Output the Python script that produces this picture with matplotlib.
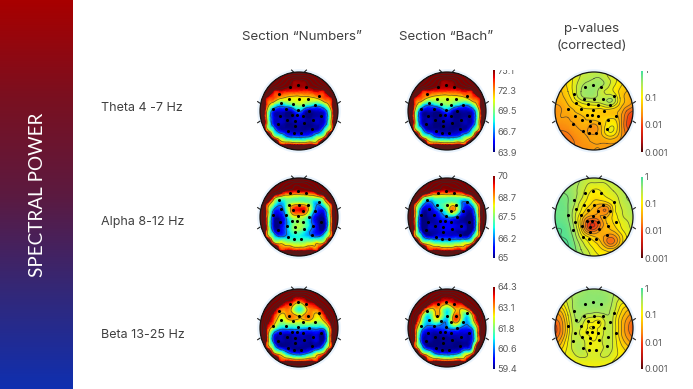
import numpy as np
import matplotlib
matplotlib.use('Agg')
import matplotlib.pyplot as plt
from matplotlib.colors import LinearSegmentedColormap, LogNorm, Normalize
from matplotlib.cm import ScalarMappable
from matplotlib.patches import Circle
from matplotlib.transforms import Bbox
from matplotlib.tri import Triangulation, UniformTriRefiner

W, H = 693, 389
plt.rcParams['font.family'] = ['Inter', 'DejaVu Sans']

# grid of the maps, x and y in head radii
grid_x = [-1, -.833, -.667, -.5, -.333, -.167, 0, .167, .333, .5, .667, .833, 1]
grid_y = [1, .833, .667, .5, .333, .167, 0, -.167, -.333, -.5, -.667, -.833, -1]

# power maps, in percent of the colour range (top row first)
theta_numbers = [
    [100]*13,
    [100]*13,
    [100, 100, 100, 100, 100, 98, 98, 98, 100, 100, 100, 100, 100],
    [100, 100, 98, 92, 88, 86, 86, 86, 88, 92, 98, 100, 100],
    [100, 97, 84, 74, 68, 66, 66, 66, 68, 74, 84, 97, 100],
    [100, 90, 56, 36, 40, 48, 56, 48, 40, 36, 56, 90, 100],
    [100, 74, 16, 7, 5, 9, 28, 9, 5, 7, 16, 74, 100],
    [100, 72, 12, 5, 2, 3, 10, 3, 2, 5, 12, 72, 100],
    [100, 76, 16, 5, 2, 2, 4, 2, 2, 5, 16, 76, 100],
    [100, 88, 42, 12, 5, 3, 3, 3, 5, 12, 42, 88, 100],
    [100, 100, 80, 52, 32, 24, 22, 24, 32, 52, 80, 100, 100],
    [100, 100, 100, 95, 85, 82, 80, 82, 85, 95, 100, 100, 100],
    [100]*13,
]
theta_bach = [
    [100]*13,
    [100]*13,
    [100, 100, 100, 100, 100, 98, 97, 98, 100, 100, 100, 100, 100],
    [100, 100, 98, 90, 86, 84, 84, 84, 86, 90, 98, 100, 100],
    [100, 97, 82, 70, 64, 62, 62, 62, 64, 70, 82, 97, 100],
    [100, 90, 52, 30, 34, 44, 52, 44, 34, 30, 52, 90, 100],
    [100, 74, 14, 5, 4, 8, 24, 8, 4, 5, 14, 74, 100],
    [100, 72, 10, 3, 1, 2, 8, 2, 1, 3, 10, 72, 100],
    [100, 76, 14, 4, 1, 1, 3, 1, 1, 4, 14, 76, 100],
    [100, 88, 40, 10, 4, 2, 2, 2, 4, 10, 40, 88, 100],
    [100, 100, 80, 50, 30, 22, 20, 22, 30, 50, 80, 100, 100],
    [100, 100, 100, 95, 85, 82, 80, 82, 85, 95, 100, 100, 100],
    [100]*13,
]
alpha_numbers = [
    [100]*13,
    [100]*13,
    [100, 100, 100, 100, 98, 96, 95, 96, 98, 100, 100, 100, 100],
    [100, 100, 90, 62, 56, 52, 50, 52, 56, 62, 90, 100, 100],
    [100, 96, 54, 28, 42, 62, 66, 62, 42, 26, 54, 96, 100],
    [100, 88, 26, 16, 38, 82, 90, 85, 42, 16, 22, 88, 100],
    [100, 85, 14, 5, 26, 58, 62, 55, 24, 4, 10, 85, 100],
    [100, 85, 10, 2, 22, 46, 55, 46, 25, 2, 3, 85, 100],
    [100, 88, 18, 6, 24, 48, 52, 40, 22, 6, 13, 88, 100],
    [100, 92, 44, 24, 28, 36, 38, 34, 26, 24, 44, 92, 100],
    [100, 100, 84, 66, 60, 55, 52, 55, 60, 66, 84, 100, 100],
    [100, 100, 100, 96, 90, 88, 86, 88, 90, 96, 100, 100, 100],
    [100]*13,
]
alpha_bach = [
    [100]*13,
    [100]*13,
    [100, 100, 100, 100, 98, 95, 94, 95, 98, 100, 100, 100, 100],
    [100, 100, 86, 54, 50, 50, 50, 50, 50, 54, 86, 100, 100],
    [100, 96, 42, 18, 28, 42, 50, 60, 34, 18, 42, 96, 100],
    [100, 86, 16, 5, 12, 28, 52, 74, 34, 7, 16, 86, 100],
    [100, 82, 6, 1, 5, 16, 26, 28, 10, 1, 4, 82, 100],
    [100, 82, 4, 1, 4, 9, 11, 9, 5, 1, 1, 82, 100],
    [100, 85, 10, 2, 5, 8, 10, 8, 5, 2, 6, 85, 100],
    [100, 90, 38, 9, 9, 11, 11, 11, 9, 7, 36, 90, 100],
    [100, 100, 82, 60, 50, 46, 44, 46, 50, 58, 82, 100, 100],
    [100, 100, 100, 98, 92, 88, 85, 88, 92, 98, 100, 100, 100],
    [100]*13,
]
beta_numbers = [
    [100]*13,
    [100]*13,
    [100, 100, 100, 100, 98, 90, 74, 90, 98, 100, 100, 100, 100],
    [100, 100, 100, 88, 80, 64, 38, 64, 80, 88, 100, 100, 100],
    [100, 100, 94, 70, 72, 76, 64, 76, 74, 68, 94, 100, 100],
    [100, 100, 84, 58, 60, 64, 62, 64, 62, 56, 74, 100, 100],
    [100, 98, 60, 34, 32, 32, 34, 32, 30, 30, 36, 97, 100],
    [100, 96, 24, 7, 4, 6, 8, 6, 6, 6, 12, 96, 100],
    [100, 96, 22, 3, 2, 3, 4, 4, 4, 5, 14, 96, 100],
    [100, 98, 48, 12, 4, 2, 2, 2, 4, 12, 42, 98, 100],
    [100, 100, 92, 66, 42, 24, 18, 26, 42, 66, 92, 100, 100],
    [100, 100, 100, 98, 92, 88, 86, 88, 92, 98, 100, 100, 100],
    [100]*13,
]
beta_bach = [
    [100]*13,
    [100]*13,
    [100, 100, 100, 100, 98, 92, 84, 92, 98, 100, 100, 100, 100],
    [100, 100, 100, 80, 72, 68, 45, 68, 72, 82, 100, 100, 100],
    [100, 100, 80, 38, 62, 66, 36, 72, 70, 38, 78, 100, 100],
    [100, 100, 62, 32, 48, 40, 30, 72, 60, 28, 62, 100, 100],
    [100, 98, 40, 18, 16, 18, 24, 34, 24, 18, 32, 98, 100],
    [100, 96, 22, 5, 3, 4, 6, 6, 6, 5, 20, 98, 100],
    [100, 96, 20, 3, 1, 1, 2, 2, 2, 3, 22, 98, 100],
    [100, 98, 42, 9, 2, 1, 1, 1, 2, 9, 44, 100, 100],
    [100, 100, 88, 60, 34, 22, 18, 22, 34, 60, 88, 100, 100],
    [100, 100, 100, 98, 92, 88, 85, 88, 92, 98, 100, 100, 100],
    [100]*13,
]
# how far the saturated dark red rim goes over the colour range
rim = [
    [170]*13,
    [170, 170, 170, 150, 125, 110, 105, 110, 125, 150, 170, 170, 170],
    [170, 170, 150, 125, 110, 104, 102, 104, 110, 125, 150, 170, 170],
    [170, 150, 120, 105, 102, 100, 100, 100, 102, 105, 120, 150, 170],
    [170, 125, 105, 100, 100, 100, 100, 100, 100, 100, 105, 125, 170],
    [170, 112, 102, 100, 100, 100, 100, 100, 100, 100, 102, 112, 170],
    [170, 108, 100, 100, 100, 100, 100, 100, 100, 100, 100, 108, 170],
    [170, 112, 102, 100, 100, 100, 100, 100, 100, 100, 102, 112, 170],
    [170, 125, 105, 100, 100, 100, 100, 100, 100, 100, 105, 125, 170],
    [170, 150, 120, 105, 102, 100, 100, 100, 102, 105, 120, 150, 170],
    [170, 170, 150, 125, 110, 104, 102, 104, 110, 125, 150, 170, 170],
    [170, 170, 170, 150, 125, 110, 105, 110, 125, 150, 170, 170, 170],
    [170]*13,
]

# p-value maps as -log10(p)
p_theta = [
    [1, 1, .9, .8, .7, .6, .6, .6, .7, .8, 1, 1.1, 1.1],
    [1.1, 1.1, 1, .85, .65, .55, .5, .5, .65, .8, 1, 1.1, 1.2],
    [1.2, 1.2, 1.05, .8, .55, .45, .4, .45, .6, .85, 1.05, 1.2, 1.3],
    [1.3, 1.3, 1.1, .8, .5, .4, .4, .6, .75, .9, 1.15, 1.3, 1.4],
    [1.4, 1.35, 1.2, .9, .6, .5, .5, .55, .55, .6, 1.1, 1.35, 1.5],
    [1.5, 1.45, 1.3, 1.15, 1, .9, .85, .8, .65, .75, 1.15, 1.4, 1.6],
    [1.6, 1.5, 1.4, 1.3, 1.2, 1.15, 1.15, 1.2, 1.2, 1.25, 1.35, 1.7, 1.9],
    [1.6, 1.5, 1.5, 1.4, 1.35, 1.25, 1.2, 1.2, 1.15, 1.15, 1.4, 1.85, 2.1],
    [1.6, 1.6, 1.55, 1.5, 1.4, 1.4, 1.5, 1.3, 1.05, .95, 1.35, 1.9, 2.1],
    [1.7, 1.7, 1.65, 1.55, 1.5, 1.5, 1.6, 1.35, .95, .9, 1.35, 1.8, 2],
    [1.8, 1.8, 1.75, 1.65, 1.55, 1.5, 1.45, 1.4, 1.2, 1.2, 1.45, 1.7, 1.8],
    [1.8, 1.8, 1.75, 1.7, 1.6, 1.55, 1.5, 1.5, 1.5, 1.5, 1.55, 1.6, 1.7],
    [1.8, 1.8, 1.8, 1.7, 1.6, 1.6, 1.5, 1.5, 1.5, 1.5, 1.55, 1.6, 1.7],
]
p_alpha = [
    [.3, .3, .3, .4, .5, .6, .6, .6, .6, .5, .5, .5, .5],
    [.3, .3, .35, .45, .55, .7, .75, .75, .7, .6, .55, .5, .5],
    [.25, .3, .35, .45, .6, .8, .95, .9, .8, .7, .6, .5, .5],
    [.2, .25, .3, .45, .65, .9, 1.05, 1, .9, .8, .65, .5, .5],
    [.2, .2, .3, .5, .8, 1, 1.2, 1.3, 1.25, .95, .7, .55, .5],
    [.2, .2, .3, .6, .9, 1.2, 1.4, 1.6, 1.65, 1.05, .75, .6, .5],
    [.15, .2, .3, .65, 1.1, 1.5, 1.6, 1.5, 1.3, 1.05, .8, .65, .55],
    [.1, .15, .25, .6, 1.2, 1.9, 2.1, 1.7, 1.3, 1.1, .9, .75, .6],
    [.1, .1, .2, .5, 1.05, 1.7, 1.85, 1.5, 1.35, 1.25, 1, .8, .65],
    [.05, .1, .15, .4, .8, 1.1, 1.3, 1.4, 1.6, 1.6, 1.25, .9, .7],
    [0, .05, .1, .3, .6, .85, 1.05, 1.25, 1.65, 1.7, 1.25, .9, .7],
    [0, 0, .1, .25, .5, .7, .9, 1.05, 1.2, 1.2, 1.05, .9, .7],
    [0, 0, .1, .2, .4, .6, .8, .9, 1, 1, .9, .8, .7],
]
p_beta = [
    [.7, .7, .6, .5, .45, .4, .4, .4, .45, .5, .6, .7, .7],
    [.8, .75, .6, .45, .4, .35, .35, .35, .4, .5, .65, .75, .8],
    [1, .9, .65, .45, .35, .35, .35, .35, .4, .55, .8, .9, 1],
    [1.3, 1.15, .75, .45, .4, .4, .4, .4, .45, .6, .95, 1.2, 1.3],
    [1.6, 1.4, .9, .5, .45, .55, .6, .6, .5, .7, 1.1, 1.4, 1.6],
    [1.8, 1.55, 1, .55, .55, .85, .9, .9, .6, .75, 1.2, 1.55, 1.8],
    [2, 1.6, 1.05, .6, .7, .9, .9, .85, .6, .75, 1.2, 1.6, 1.9],
    [1.9, 1.55, 1, .6, .75, .9, .95, .8, .6, .75, 1.2, 1.55, 1.8],
    [1.7, 1.35, .9, .6, .6, .8, .9, .75, .6, .75, 1.1, 1.4, 1.6],
    [1.4, 1.15, .85, .6, .55, .8, .85, .8, .6, .75, 1, 1.2, 1.4],
    [1.2, 1, .85, .7, .6, .7, .75, .7, .65, .8, .95, 1.1, 1.2],
    [1.1, 1, .95, .85, .8, .8, .8, .8, .8, .9, 1, 1.1, 1.1],
    [1, 1, 1, .95, .9, .9, .9, .9, .9, .95, 1, 1, 1],
]

# electrodes
elec_x = [-.22, -.02, .19, -.51, -.25, 0, .22, .5, -.45, -.15, .11, .41, -.66, -.33, -.03, .26,
          -.18, -.05, .09, -.48, -.31, -.09, .14, .35, .56, -.53, -.09, -.27, -.12, .04, .33]
elec_y = [.62, .66, .62, .43, .32, .32, .32, .38, .21, .18, .15, .16, .04, .06, .03, -.01,
          -.09, -.10, -.14, -.13, -.24, -.26, -.32, -.23, -.14, -.34, -.39, -.50, -.56, -.56, -.46]

# colour bars
power_ticks = [[63.9, 66.7, 69.5, 72.3, 75.1], [65, 66.2, 67.5, 68.7, 70], [59.4, 60.6, 61.8, 63.1, 64.3]]
p_ticks = [0.001, 0.01, 0.1, 1]
p_ticklabels = ['0.001', '0.01', '0.1', '1']

band_labels = ['Theta 4 -7 Hz', 'Alpha 8-12 Hz', 'Beta 13-25 Hz']
band_y = [108, 222, 335]
row_y = [111, 217, 328]
col_x = [299, 447, 594]
sidebar_colors = ['#a80000', '#7a1020', '#5c1a40', '#332878', '#0f2fb0']

p_cmap = LinearSegmentedColormap.from_list('pmap', [
    (0, '#4a0808'), (.12, '#b01010'), (.3, '#f03010'), (.45, '#fb8a10'),
    (.68, '#fff000'), (.85, '#a8e860'), (1, '#40e0a0')])

R = 39
HALF = 1.2 * R


def px_axes(cx, cy, half):
    return fig.add_axes([(cx - half) / W, 1 - (cy + half) / H, 2 * half / W, 2 * half / H])


def head(cx, cy, values, cmap, vmin, vmax, levels, nose=True):
    ax = px_axes(cx, cy, HALF)
    ax.set_xlim(-1.2, 1.2)
    ax.set_ylim(-1.2, 1.2)
    ax.axis('off')
    ax.add_patch(Circle((0, 0), 1.07, fc='#e9f3fd', ec='none', zorder=0))

    xx, yy = np.meshgrid(grid_x, grid_y)
    tri = Triangulation(xx.ravel(), yy.ravel())
    fine, z = UniformTriRefiner(tri).refine_field(np.asarray(values, float).ravel(), subdiv=3)
    mesh = ax.tripcolor(fine, z, shading='gouraud', cmap=cmap, vmin=vmin, vmax=vmax, zorder=1)
    lines = ax.tricontour(fine, z, levels=levels, colors='#303030', linewidths=.55, alpha=.7,
                          linestyles='solid', zorder=2)
    clip = Circle((0, 0), 1, transform=ax.transData)
    mesh.set_clip_path(clip)
    lines.set_clip_path(clip)

    ax.add_patch(Circle((0, 0), 1, fc='none', ec='#151515', lw=.9, zorder=3))
    ax.scatter(elec_x, elec_y, s=5, c='black', linewidths=0, zorder=4)
    for sx in (-1, 1):
        ax.plot([sx * 1.0, sx * 1.06], [.2, .24], color='#222222', lw=.8, clip_on=False)
        ax.plot([sx * 1.0, sx * 1.06], [-.26, -.3], color='#222222', lw=.8, clip_on=False)
        if nose:
            ax.plot([sx * .14, sx * .19], [1.0, 1.05], color='#222222', lw=.8, clip_on=False)
    return ax


def colorbar(x, top, bottom, mappable, ticks, labels, clip=None):
    cax = fig.add_axes([x / W, 1 - bottom / H, 2 / W, (bottom - top) / H])
    cb = fig.colorbar(mappable, cax=cax)
    cb.outline.set_visible(False)
    cb.set_ticks(ticks, labels=labels)
    cb.minorticks_off()
    cax.tick_params(length=0, pad=1.5, labelsize=6.6, labelcolor='#5a5a5a')
    if clip:
        # the top label is cut in half in the slide
        lab = cax.get_yticklabels()[-1]
        lab.set_clip_on(True)
        lab.set_clip_box(Bbox([[0, H - clip[1]], [W, H - clip[0]]]))
    return cax


fig = plt.figure(figsize=(W / 100, H / 100), dpi=100, facecolor='white')

# side band
side = fig.add_axes([0, 0, 73 / W, 1])
side.imshow(np.linspace(0, 1, 256)[:, None], aspect='auto',
            cmap=LinearSegmentedColormap.from_list('side', sidebar_colors))
side.axis('off')
side.text(.52, .5, 'SPECTRAL POWER', color='white', rotation=90, ha='center', va='center',
          transform=side.transAxes, fontsize=13.6, family=['Lato', 'DejaVu Sans'])

# headers
hdr = dict(ha='center', va='center', color='#404040', fontsize=9.6)
fig.text(302 / W, 1 - 37.5 / H, 'Section “Numbers”', **hdr)
fig.text(446 / W, 1 - 37.5 / H, 'Section “Bach”', **hdr)
fig.text(592 / W, 1 - 29 / H, 'p-values', **hdr)
fig.text(592 / W, 1 - 46 / H, '(corrected)', **hdr)
for label, y in zip(band_labels, band_y):
    fig.text(101 / W, 1 - y / H, label, ha='left', va='center', color='#404040', fontsize=9)

rows = [(theta_numbers, theta_bach, p_theta), (alpha_numbers, alpha_bach, p_alpha), (beta_numbers, beta_bach, p_beta)]
power_levels = [25, 70, 103, 115, 130, 150]
p_levels = -np.arange(.1, 2.6, .2)[::-1]
for i, (m1, m2, mp) in enumerate(rows):
    cy = row_y[i]
    v1 = np.where(np.array(m1) >= 100, rim, m1)
    v2 = np.where(np.array(m2) >= 100, rim, m2)
    head(col_x[0], cy, v1, 'jet', 0, 100, power_levels)
    head(col_x[1], cy, v2, 'jet', 0, 100, power_levels)
    head(col_x[2], cy, -np.array(mp), p_cmap, -3, 0, p_levels, nose=i > 0)

    ticks = power_ticks[i]
    sm = ScalarMappable(Normalize(ticks[0], ticks[-1]), 'jet')
    labels = [f'{t:g}' for t in ticks]
    top = cy - 41
    clip_power = (70, 160) if i == 0 else None
    colorbar(493, top, cy + 41, sm, ticks, labels, clip_power)

    sm = ScalarMappable(LogNorm(.001, 1), p_cmap)
    clip_p = (70.5, 73) if i == 0 else None
    colorbar(640.5, top + 1, cy + 41, sm, p_ticks, p_ticklabels, clip_p)

fig.savefig('out.png', dpi=100)
